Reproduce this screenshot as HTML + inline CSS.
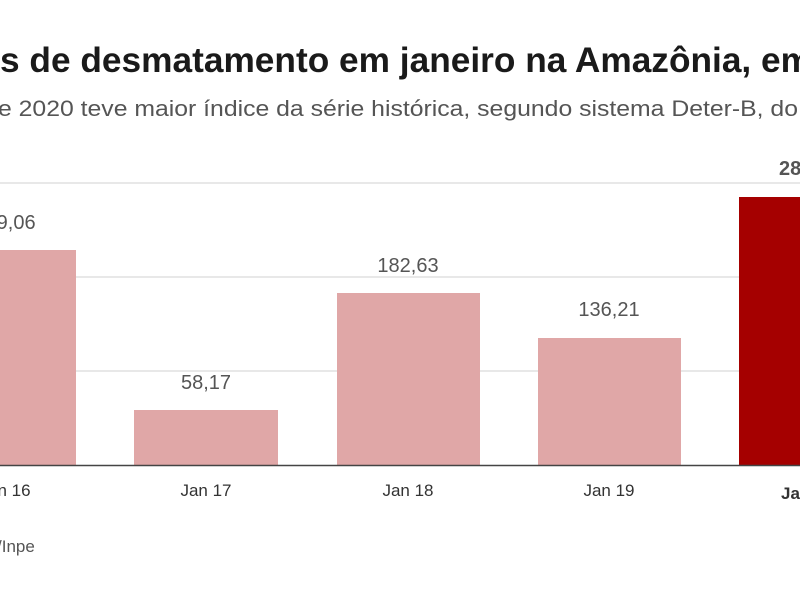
<!DOCTYPE html>
<html><head><meta charset="utf-8"><style>
html,body{margin:0;padding:0;background:#fff;overflow:hidden}
svg{display:block}
text{font-family:"Liberation Sans Narrow","Liberation Sans",sans-serif}
</style></head><body>
<svg width="800" height="600" viewBox="0 0 800 600" xmlns="http://www.w3.org/2000/svg">
<text x="0" y="72" font-size="35" font-weight="bold" fill="#1a1a1a" textLength="812" lengthAdjust="spacingAndGlyphs">s de desmatamento em janeiro na Amazônia, em</text>
<text x="-2" y="116" font-size="22" fill="#555" textLength="800" lengthAdjust="spacingAndGlyphs">e 2020 teve maior índice da série histórica, segundo sistema Deter-B, do</text>
<g stroke="#d9d9d9" stroke-width="1.3">
<line x1="0" y1="183" x2="800" y2="183"/>
<line x1="0" y1="277" x2="800" y2="277"/>
<line x1="0" y1="371" x2="800" y2="371"/>
</g>
<g fill="#e0a7a7">
<rect x="-70" y="250" width="146" height="215"/>
<rect x="134" y="410" width="144" height="55"/>
<rect x="337" y="293" width="143" height="172"/>
<rect x="538" y="338" width="143" height="127"/>
</g>
<rect x="739" y="197" width="70" height="268" fill="#a50000"/>
<line x1="0" y1="465.5" x2="800" y2="465.5" stroke="#444" stroke-width="1.5"/>
<g font-size="20" fill="#555" text-anchor="middle">
<text x="5" y="229">229,06</text>
<text x="206" y="389">58,17</text>
<text x="408" y="272">182,63</text>
<text x="609" y="316">136,21</text>
</g>
<text x="779" y="175" font-size="20" font-weight="bold" fill="#555">28</text>
<g font-size="17" fill="#333" text-anchor="middle">
<text x="5" y="496">Jan 16</text>
<text x="206" y="496">Jan 17</text>
<text x="408" y="496">Jan 18</text>
<text x="609" y="496">Jan 19</text>
</g>
<text x="781" y="499" font-size="17" font-weight="bold" fill="#333">Ja</text>
<text x="-3" y="552" font-size="17" fill="#555">/Inpe</text>
</svg>
</body></html>
